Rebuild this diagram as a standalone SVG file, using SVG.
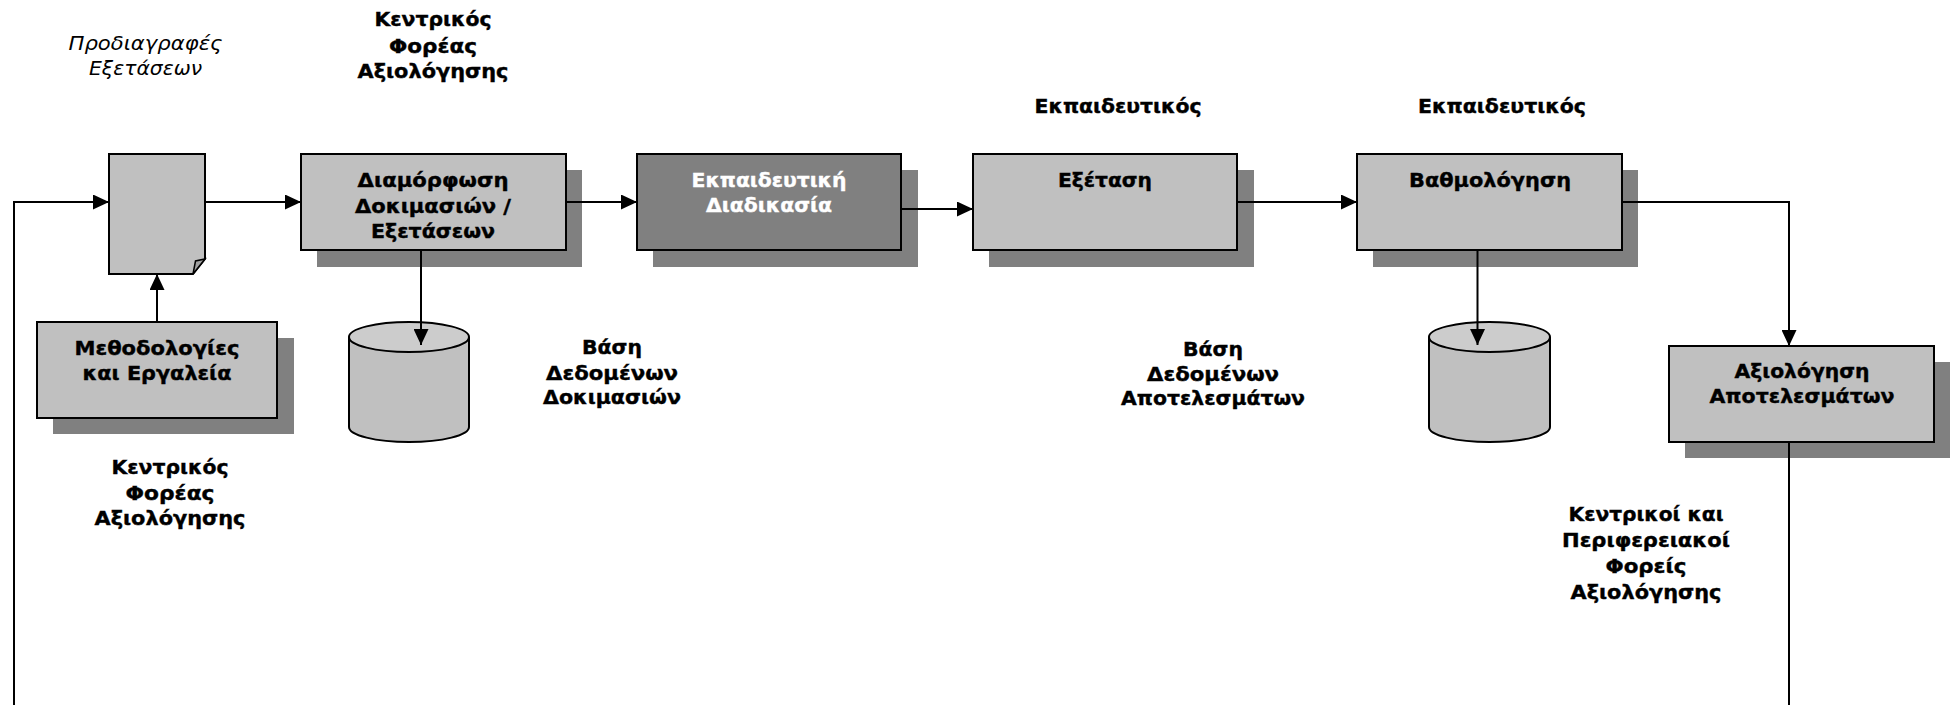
<svg xmlns="http://www.w3.org/2000/svg" width="1953" height="705" viewBox="0 0 1953 705">
<style>
.box{fill:#c0c0c0;stroke:#000;stroke-width:2}
.dark{fill:#808080;stroke:#000;stroke-width:2}
.shadow{fill:#808080;stroke:none}
.cyl{fill:#c0c0c0;stroke:#000;stroke-width:2}
.cyltop{fill:#cccccc;stroke:#000;stroke-width:2}
.t{font-family:"DejaVu Sans","Verdana",sans-serif;font-weight:bold;font-size:20px;text-anchor:middle;fill:#000;stroke:#000;stroke-width:0.4}
.w{fill:#fff;stroke:#fff}
.it{font-family:"DejaVu Sans",sans-serif;font-style:italic;font-size:20px;text-anchor:middle;fill:#000}
.c{fill:none;stroke:#000;stroke-width:2}
</style>
<defs>
<marker id="arr" markerUnits="userSpaceOnUse" markerWidth="16" markerHeight="15" refX="16" refY="7.5" orient="auto">
<path d="M0,0 L16,7.5 L0,15 z" fill="#000"/>
</marker>
</defs>
<rect width="1953" height="705" fill="#fff"/>

<g id="label-prodiagrafes">
<text class="it" x="145.5" y="49.5" textLength="154" lengthAdjust="spacingAndGlyphs">Προδιαγραφές</text>
<text class="it" x="145.5" y="74.5" textLength="113" lengthAdjust="spacingAndGlyphs">Εξετάσεων</text>
</g>
<g id="label-kentrikos-top">
<text class="t" x="433" y="26" textLength="117" lengthAdjust="spacingAndGlyphs">Κεντρικός</text>
<text class="t" x="433" y="52.5" textLength="88" lengthAdjust="spacingAndGlyphs">Φορέας</text>
<text class="t" x="433" y="78" textLength="151" lengthAdjust="spacingAndGlyphs">Αξιολόγησης</text>
</g>

<g id="doc">
<path d="M109,154 H205 V259 L193,274 H109 Z" class="box"/>
<path d="M193,274 L195.5,261 L205,259 Z" fill="#a0a0a0" stroke="#000" stroke-width="1.5"/>
</g>

<g id="methodologies">
<rect class="shadow" x="53" y="338" width="241" height="96"/>
<rect class="box" x="37" y="322" width="240" height="96"/>
<text class="t" x="157" y="355" textLength="165" lengthAdjust="spacingAndGlyphs">Μεθοδολογίες</text>
<text class="t" x="157" y="380" textLength="149" lengthAdjust="spacingAndGlyphs">και Εργαλεία</text>
</g>
<g id="label-kentrikos-bottom">
<text class="t" x="170" y="474" textLength="117" lengthAdjust="spacingAndGlyphs">Κεντρικός</text>
<text class="t" x="170" y="500" textLength="89" lengthAdjust="spacingAndGlyphs">Φορέας</text>
<text class="t" x="170" y="525" textLength="151" lengthAdjust="spacingAndGlyphs">Αξιολόγησης</text>
</g>

<g id="diamorfosi">
<rect class="shadow" x="317" y="170" width="265" height="97"/>
<rect class="box" x="301" y="154" width="265" height="96"/>
<text class="t" x="433" y="187" textLength="151" lengthAdjust="spacingAndGlyphs">Διαμόρφωση</text>
<text class="t" x="433" y="212.5" textLength="156" lengthAdjust="spacingAndGlyphs">Δοκιμασιών /</text>
<text class="t" x="433" y="238" textLength="124" lengthAdjust="spacingAndGlyphs">Εξετάσεων</text>
</g>

<g id="db-dokimasion">
<path class="cyl" d="M349,337 V427 A60,15 0 0 0 469,427 V337"/>
<ellipse class="cyltop" cx="409" cy="337" rx="60" ry="15"/>
</g>
<g id="label-db-dokimasion">
<text class="t" x="612" y="354" textLength="60" lengthAdjust="spacingAndGlyphs">Βάση</text>
<text class="t" x="612" y="379.5" textLength="132" lengthAdjust="spacingAndGlyphs">Δεδομένων</text>
<text class="t" x="612" y="404" textLength="138" lengthAdjust="spacingAndGlyphs">Δοκιμασιών</text>
</g>

<g id="ekpaideutiki">
<rect class="shadow" x="653" y="170" width="265" height="97"/>
<rect class="dark" x="637" y="154" width="264" height="96"/>
<text class="t w" x="769" y="187" textLength="155" lengthAdjust="spacingAndGlyphs">Εκπαιδευτική</text>
<text class="t w" x="769" y="212" textLength="126" lengthAdjust="spacingAndGlyphs">Διαδικασία</text>
</g>

<g id="label-ekpaideutikos-1">
<text class="t" x="1118" y="113" textLength="167" lengthAdjust="spacingAndGlyphs">Εκπαιδευτικός</text>
</g>
<g id="exetasi">
<rect class="shadow" x="989" y="170" width="265" height="97"/>
<rect class="box" x="973" y="154" width="264" height="96"/>
<text class="t" x="1105" y="187" textLength="94" lengthAdjust="spacingAndGlyphs">Εξέταση</text>
</g>
<g id="label-db-apotelesmaton">
<text class="t" x="1213" y="355.5" textLength="60" lengthAdjust="spacingAndGlyphs">Βάση</text>
<text class="t" x="1213" y="380.5" textLength="132" lengthAdjust="spacingAndGlyphs">Δεδομένων</text>
<text class="t" x="1213" y="404.5" textLength="184" lengthAdjust="spacingAndGlyphs">Αποτελεσμάτων</text>
</g>

<g id="label-ekpaideutikos-2">
<text class="t" x="1502" y="113" textLength="168" lengthAdjust="spacingAndGlyphs">Εκπαιδευτικός</text>
</g>
<g id="vathmologisi">
<rect class="shadow" x="1373" y="170" width="265" height="97"/>
<rect class="box" x="1357" y="154" width="265" height="96"/>
<text class="t" x="1490" y="187" textLength="162" lengthAdjust="spacingAndGlyphs">Βαθμολόγηση</text>
</g>

<g id="db-apotelesmaton">
<path class="cyl" d="M1429,337 V427 A60.5,15 0 0 0 1550,427 V337"/>
<ellipse class="cyltop" cx="1489.5" cy="337" rx="60.5" ry="15"/>
</g>

<g id="axiologisi">
<rect class="shadow" x="1685" y="362" width="265" height="96"/>
<rect class="box" x="1669" y="346" width="265" height="96"/>
<text class="t" x="1802" y="378" textLength="135" lengthAdjust="spacingAndGlyphs">Αξιολόγηση</text>
<text class="t" x="1802" y="403" textLength="185" lengthAdjust="spacingAndGlyphs">Αποτελεσμάτων</text>
</g>
<g id="label-foreis">
<text class="t" x="1646" y="521" textLength="155" lengthAdjust="spacingAndGlyphs">Κεντρικοί και</text>
<text class="t" x="1646" y="547" textLength="168" lengthAdjust="spacingAndGlyphs">Περιφερειακοί</text>
<text class="t" x="1646" y="573" textLength="81" lengthAdjust="spacingAndGlyphs">Φορείς</text>
<text class="t" x="1646" y="599" textLength="151" lengthAdjust="spacingAndGlyphs">Αξιολόγησης</text>
</g>

<g id="connectors">
<path class="c" d="M14,706 V202 H109" marker-end="url(#arr)"/>
<path class="c" d="M205,202 H301" marker-end="url(#arr)"/>
<path class="c" d="M157,322 V274" marker-end="url(#arr)"/>
<path class="c" d="M421,250 V345" marker-end="url(#arr)"/>
<path class="c" d="M566,202 H637" marker-end="url(#arr)"/>
<path class="c" d="M901,209 H973" marker-end="url(#arr)"/>
<path class="c" d="M1237,202 H1357" marker-end="url(#arr)"/>
<path class="c" d="M1477.5,250 V345" marker-end="url(#arr)"/>
<path class="c" d="M1622,202 H1789 V346" marker-end="url(#arr)"/>
<path class="c" d="M1789,442 V706"/>
</g>
</svg>
